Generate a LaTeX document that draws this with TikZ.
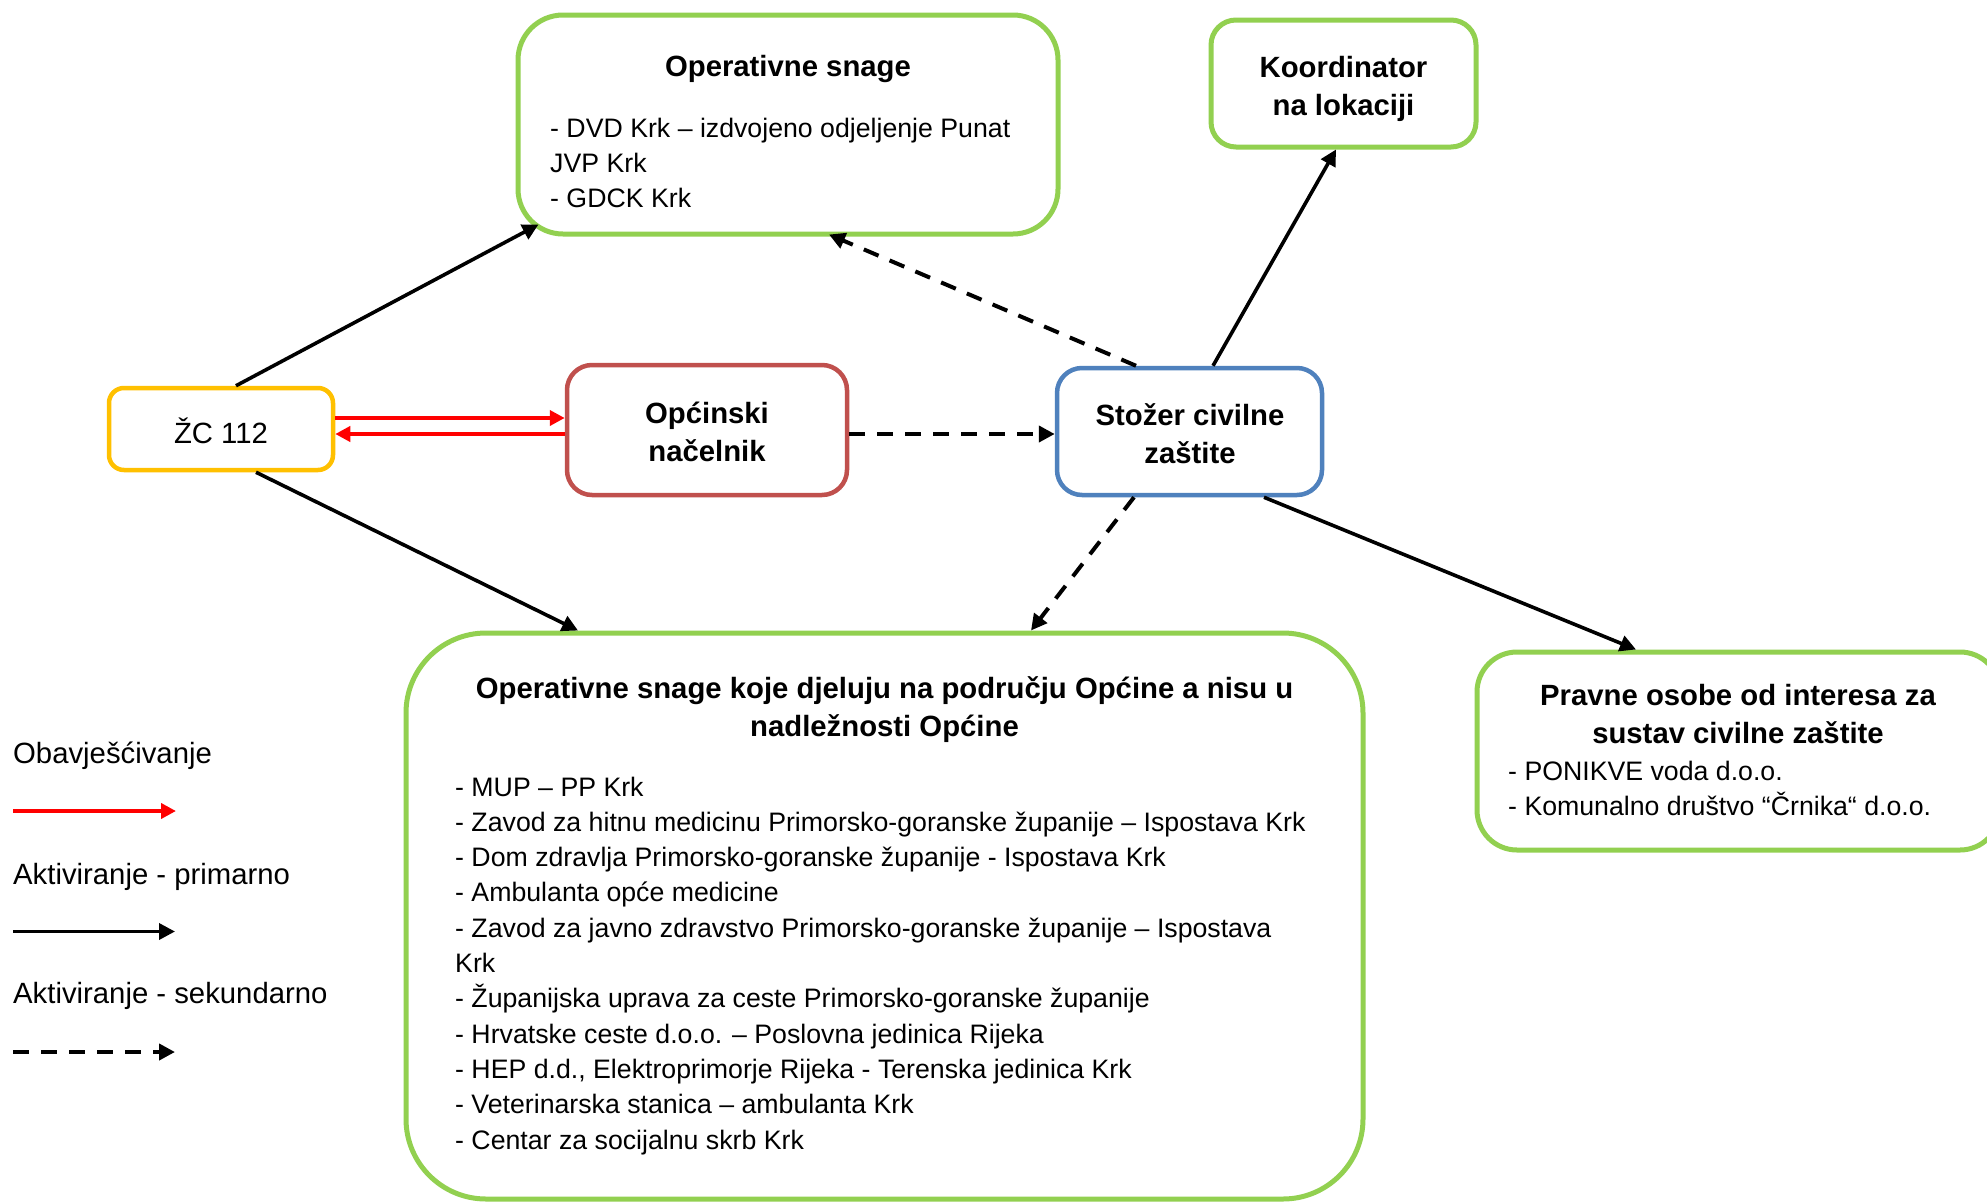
\documentclass[tikz,border=0pt]{standalone}
\usepackage{fontspec}
\setmainfont{Liberation Sans}
\usetikzlibrary{arrows.meta}
\definecolor{gr}{RGB}{146,208,80}
\definecolor{yl}{RGB}{255,192,0}
\definecolor{rd}{RGB}{192,80,77}
\definecolor{bl}{RGB}{79,129,189}
\newcommand\fReg{\fontsize{26.7}{35.3}\selectfont}
\newcommand\fBig{\fontsize{29.3}{38.5}\selectfont}
\newcommand\Lblock[1]{\vtop{\halign{##\hfil\cr#1\crcr}}}
\newcommand\Cblock[1]{\vtop{\halign{\hfil##\hfil\cr#1\crcr}}}
\begin{document}
\begin{tikzpicture}[x=1pt,y=-1pt,
  nbox/.style={draw, line width=4.5pt, inner sep=0pt, rounded corners=25pt},
  gbox/.style={draw=gr, line width=5pt, inner sep=0pt},
  arr/.style={-{Triangle[length=16pt,width=16pt]}, line width=3.6pt, black},
  darr/.style={arr, line width=4pt, dash pattern=on 16pt off 12pt},
  rarr/.style={-{Triangle[length=15pt,width=15pt]}, line width=4pt, red},
  txt/.style={inner sep=0pt, anchor=base}]
\useasboundingbox (0,0) rectangle (1987,1203);
\clip (0,0) rectangle (1987,1203);
\fill[white] (0,0) rectangle (1987,1203);
% boxes
\node[gbox, rounded corners=45pt, minimum width=540pt, minimum height=219pt] (ops) at (788,124.5) {};
\node[gbox, rounded corners=25pt, minimum width=265pt, minimum height=127pt] (koord) at (1343.5,83.5) {};
\node[nbox, draw=yl, rounded corners=15pt, minimum width=224pt, minimum height=82pt] (zc) at (221,429) {};
\node[nbox, draw=rd, minimum width=280pt, minimum height=130pt] (nac) at (707,430) {};
\node[nbox, draw=bl, minimum width=265pt, minimum height=127pt] (stozer) at (1189.5,431.5) {};
\node[gbox, rounded corners=80pt, minimum width=957pt, minimum height=566pt] (big) at (884.5,916) {};
\node[gbox, rounded corners=40pt, minimum width=523pt, minimum height=198pt] (pravne) at (1738.5,751) {};
% texts
\node[txt, font=\fBig\bfseries] (opsT) at (788,76) {Operativne snage};
\node[txt, anchor=base west, font=\fReg] (opsL) at (550,137) {\Lblock{- DVD Krk – izdvojeno odjeljenje Punat\cr JVP Krk\cr - GDCK Krk}};
\node[txt, font=\fBig\bfseries] (koordT) at (1343.5,77) {\Cblock{Koordinator\cr na lokaciji}};
\node[txt, font=\fBig] (zcT) at (221,443) {ŽC 112};
\node[txt, font=\fBig\bfseries] (nacT) at (707,423) {\Cblock{Općinski\cr načelnik}};
\node[txt, font=\fBig\bfseries] (stT) at (1190,425) {\Cblock{Stožer civilne\cr zaštite}};
\node[txt, font=\fBig\bfseries] (bigT) at (884.5,698) {\Cblock{Operativne snage koje djeluju na području Općine a nisu u\cr nadležnosti Općine}};
\node[txt, anchor=base west, font=\fReg] (bigL) at (455,796) {\Lblock{- MUP – PP Krk\cr
- Zavod za hitnu medicinu Primorsko-goranske županije – Ispostava Krk\cr
- Dom zdravlja Primorsko-goranske županije - Ispostava Krk\cr
- Ambulanta opće medicine\cr
- Zavod za javno zdravstvo Primorsko-goranske županije – Ispostava\cr
Krk\cr
- Županijska uprava za ceste Primorsko-goranske županije\cr
- Hrvatske ceste d.o.o. – Poslovna jedinica Rijeka\cr
- HEP d.d., Elektroprimorje Rijeka - Terenska jedinica Krk\cr
- Veterinarska stanica – ambulanta Krk\cr
- Centar za socijalnu skrb Krk}};
\node[txt, font=\fBig\bfseries] (prT) at (1738,705) {\Cblock{Pravne osobe od interesa za\cr sustav civilne zaštite}};
\node[txt, anchor=base west, font=\fReg] (prL) at (1508,780) {\Lblock{- PONIKVE voda d.o.o.\cr - Komunalno društvo “Črnika“ d.o.o.}};
% legend
\node[txt, anchor=base west, font=\fBig] (lg1) at (13,763) {Obavješćivanje};
\node[txt, anchor=base west, font=\fBig] (lg2) at (13,884) {Aktiviranje - primarno};
\node[txt, anchor=base west, font=\fBig] (lg3) at (13,1003) {Aktiviranje - sekundarno};
\coordinate (r1) at (13,811); \coordinate (r2) at (176,811);
\coordinate (b1) at (13,931.5); \coordinate (b2) at (175,931.5);
\coordinate (d1) at (13,1052); \coordinate (d2) at (175,1052);
\draw[rarr] (r1) -- (r2);
\draw[arr] (b1) -- (b2);
\draw[darr] (d1) -- (d2);
% connectors
\draw[arr] ([xshift=15pt]zc.north) -- ([xshift=23pt,yshift=12pt]ops.south west);
\draw[arr] ([xshift=35pt]zc.south) -- ([xshift=-306.5pt]big.north);
\draw[rarr] ([yshift=11pt]zc.east) -- ([yshift=11pt]zc.east -| nac.west);
\draw[rarr] ([yshift=-4pt]nac.west) -- ([yshift=-4pt]nac.west -| zc.east);
\draw[darr] ([yshift=-4pt]nac.east) -- ([yshift=-4pt]nac.east -| stozer.west);
\draw[arr] ([xshift=23.5pt]stozer.north) -- ([xshift=-7.5pt]koord.south);
\draw[darr] ([xshift=-53.5pt]stozer.north) -- ([xshift=41pt,yshift=2pt]ops.south);
\draw[darr] ([xshift=-55.5pt]stozer.south) -- ([xshift=146.5pt]big.north);
\draw[arr] ([xshift=74.5pt]stozer.south) -- ([xshift=-102.5pt]pravne.north);
\end{tikzpicture}
\end{document}
